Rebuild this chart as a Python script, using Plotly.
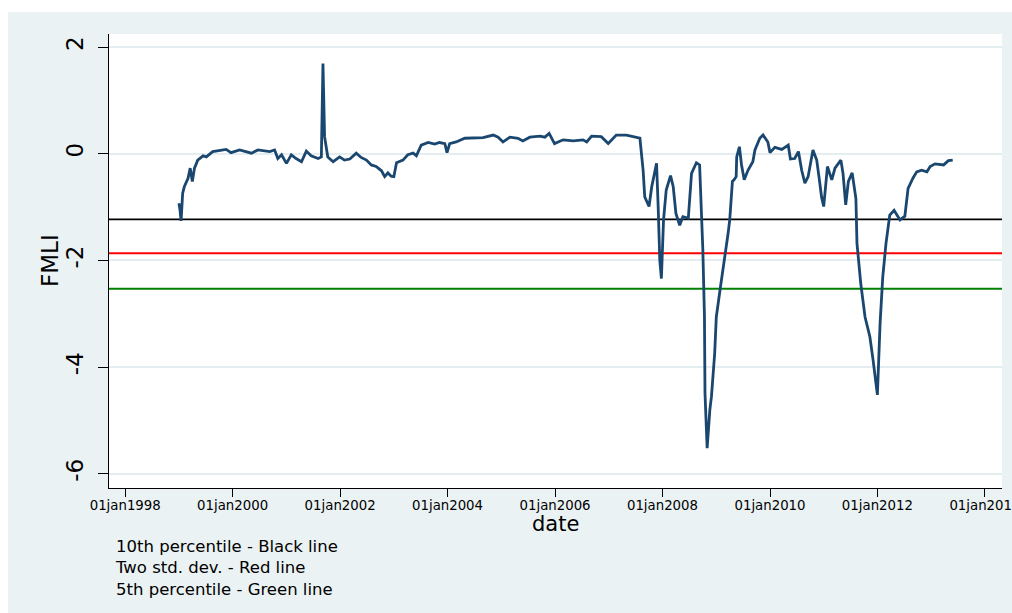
import datetime as dt
import plotly.graph_objects as go

# ---- data (decimal year, FMLI value) ----
date_years = [
    1999.00, 1999.02, 1999.04, 1999.07, 1999.10, 1999.17, 1999.21, 1999.25, 1999.29, 1999.35,
    1999.45, 1999.51, 1999.63, 1999.88, 1999.97, 2000.13, 2000.35, 2000.47, 2000.69, 2000.78,
    2000.84, 2000.91, 2001.00, 2001.09, 2001.18, 2001.28, 2001.37, 2001.46, 2001.59, 2001.65,
    2001.68, 2001.71, 2001.77, 2001.87, 2001.99, 2002.08, 2002.18, 2002.30, 2002.39, 2002.49,
    2002.58, 2002.67, 2002.77, 2002.83, 2002.89, 2002.95, 2003.00, 2003.05, 2003.17, 2003.26,
    2003.36, 2003.42, 2003.51, 2003.64, 2003.76, 2003.85, 2003.95, 2003.99, 2004.04, 2004.16,
    2004.32, 2004.47, 2004.66, 2004.85, 2004.94, 2005.03, 2005.16, 2005.31, 2005.40, 2005.53,
    2005.72, 2005.81, 2005.89, 2005.99, 2006.15, 2006.34, 2006.52, 2006.59, 2006.68, 2006.86,
    2006.99, 2007.14, 2007.33, 2007.58, 2007.64, 2007.67, 2007.75, 2007.80, 2007.89, 2007.92,
    2007.95, 2007.98, 2008.02, 2008.07, 2008.15, 2008.20, 2008.25, 2008.32, 2008.38, 2008.48,
    2008.54, 2008.63, 2008.69, 2008.75, 2008.78, 2008.79, 2008.82, 2008.83, 2008.88, 2008.91,
    2008.97, 2009.00, 2009.07, 2009.16, 2009.22, 2009.25, 2009.29, 2009.30, 2009.33, 2009.37,
    2009.38, 2009.43, 2009.47, 2009.52, 2009.59, 2009.68, 2009.72, 2009.81, 2009.87, 2009.96,
    2010.00, 2010.09, 2010.22, 2010.34, 2010.38, 2010.46, 2010.53, 2010.59, 2010.65, 2010.71,
    2010.80, 2010.87, 2010.92, 2010.96, 2011.00, 2011.07, 2011.15, 2011.21, 2011.32, 2011.36,
    2011.41, 2011.46, 2011.53, 2011.60, 2011.62, 2011.69, 2011.77, 2011.86, 2011.92, 2012.00,
    2012.05, 2012.10, 2012.16, 2012.23, 2012.31, 2012.42, 2012.51, 2012.57, 2012.66, 2012.73,
    2012.82, 2012.92, 2012.98, 2013.07, 2013.23, 2013.32, 2013.40,
]
fmli = [
    -0.93, -1.05, -1.26, -0.74, -0.62, -0.46, -0.27, -0.52, -0.27, -0.12,
    -0.04, -0.06, 0.04, 0.08, 0.02, 0.07, 0.01, 0.07, 0.04, 0.07,
    -0.09, -0.02, -0.18, -0.02, -0.09, -0.15, 0.05, -0.04, -0.09, -0.06,
    1.69, 0.32, -0.06, -0.15, -0.06, -0.12, -0.10, 0.01, -0.07, -0.12,
    -0.21, -0.24, -0.32, -0.43, -0.36, -0.42, -0.43, -0.17, -0.12, -0.02,
    0.01, -0.04, 0.16, 0.21, 0.18, 0.21, 0.19, 0.02, 0.19, 0.22,
    0.29, 0.29, 0.30, 0.35, 0.31, 0.22, 0.31, 0.29, 0.24, 0.31,
    0.33, 0.31, 0.38, 0.19, 0.26, 0.24, 0.26, 0.22, 0.33, 0.32,
    0.19, 0.35, 0.35, 0.29, -0.31, -0.81, -0.99, -0.62, -0.18, -0.99,
    -1.99, -2.34, -1.24, -0.68, -0.41, -0.62, -1.12, -1.34, -1.18, -1.21,
    -0.37, -0.17, -0.21, -1.80, -3.06, -4.49, -5.12, -5.52, -4.80, -4.55,
    -3.74, -3.06, -2.55, -1.96, -1.49, -1.24, -0.62, -0.52, -0.49, -0.43,
    -0.06, 0.13, -0.21, -0.49, -0.31, -0.15, 0.07, 0.29, 0.35, 0.22,
    0.02, 0.12, 0.08, 0.16, -0.10, -0.09, 0.04, -0.31, -0.55, -0.43,
    0.07, -0.12, -0.49, -0.81, -0.99, -0.24, -0.49, -0.27, -0.12, -0.37,
    -0.96, -0.52, -0.36, -0.84, -1.68, -2.43, -3.06, -3.43, -3.87, -4.52,
    -3.18, -2.31, -1.68, -1.15, -1.06, -1.24, -1.17, -0.65, -0.46, -0.34,
    -0.31, -0.34, -0.24, -0.19, -0.21, -0.13, -0.12,
]

threshold_names = ["10th percentile", "Two std. dev.", "5th percentile"]
threshold_values = [-1.23, -1.867, -2.53]
threshold_colors = ["#000000", "#FF0000", "#008000"]

tick_years = [1998, 2000, 2002, 2004, 2006, 2008, 2010, 2012, 2014]
tick_labels = ["01jan%d" % y for y in tick_years]
y_ticks = [2, 0, -2, -4, -6]
y_tick_labels = ["2", "0", "-2", "-4", "-6"]

x_title = "date"
y_title = "FMLI"
note_lines = [
    "10th percentile - Black line",
    "Two std. dev. - Red line",
    "5th percentile - Green line",
]


def year_to_date(y):
    yr = int(y)
    start = dt.datetime(yr, 1, 1)
    end = dt.datetime(yr + 1, 1, 1)
    return start + (end - start) * (y - yr)


dates = [year_to_date(y) for y in date_years]
tick_dates = [dt.datetime(y, 1, 1) for y in tick_years]

FONT = "DejaVu Sans, Liberation Sans, Arial, sans-serif"
BG = "#EAF2F3"

# figure geometry (page margin removed, figure fills the window)
W, H = 1012, 613
L, R, T, B = 109, 10, 34, 125
pw, ph = W - L - R, H - T - B


def px_x(p):
    return (p - L) / pw


def px_y(p):
    return (H - B - p) / ph


fig = go.Figure()
fig.add_trace(go.Scatter(
    x=dates, y=fmli, mode="lines",
    line=dict(color="#1A476F", width=2.8),
    showlegend=False, hoverinfo="x+y",
))

for name, val, col in zip(threshold_names, threshold_values, threshold_colors):
    fig.add_hline(y=val, line=dict(color=col, width=2 if col != "#000000" else 1.8), layer="below")

# white strips along the top and the left (grey graph region is inset)
fig.add_shape(type="rect", xref="paper", yref="paper", x0=px_x(-20), x1=px_x(W + 20),
              y0=px_y(12), y1=px_y(-20), fillcolor="white", line_width=0, layer="below")
fig.add_shape(type="rect", xref="paper", yref="paper", x0=px_x(-20), x1=px_x(8),
              y0=px_y(H + 20), y1=px_y(-20), fillcolor="white", line_width=0, layer="below")

fig.add_annotation(
    xref="paper", yref="paper", x=px_x(113), y=px_y(568.4),
    xanchor="left", yanchor="middle", align="left",
    text="<br>".join(note_lines), showarrow=False,
    font=dict(family=FONT, size=16.5, color="#000000"),
)
fig.add_annotation(
    xref="paper", yref="paper", x=px_x(50), y=px_y((T + H - B) / 2),
    xanchor="center", yanchor="middle", textangle=-90,
    text=y_title, showarrow=False,
    font=dict(family=FONT, size=23, color="#000000"),
)
fig.add_annotation(
    xref="paper", yref="paper", x=0.5, y=px_y(524),
    xanchor="center", yanchor="middle",
    text=x_title, showarrow=False,
    font=dict(family=FONT, size=21, color="#000000"),
)

fig.update_layout(
    width=W, height=H,
    margin=dict(l=L, r=R, t=T, b=B, autoexpand=False),
    paper_bgcolor=BG, plot_bgcolor="white",
    font=dict(family=FONT, color="#000000"),
    showlegend=False,
)
fig.update_xaxes(
    type="date",
    range=[year_to_date(1997.698), year_to_date(2014.318)],
    tickvals=tick_dates, ticktext=tick_labels,
    tickfont=dict(family=FONT, size=13.3, color="#000000"),
    ticks="outside", ticklen=8, tickwidth=1.2, tickcolor="#000000",
    showgrid=False, zeroline=False,
    showline=True, linecolor="#000000", linewidth=1.2,
    ticklabelstandoff=-3, ticklabeloverflow="allow",
    automargin=False,
)
fig.update_yaxes(
    range=[-6.266, 2.244],
    tickvals=y_ticks, ticktext=y_tick_labels,
    tickangle=-90,
    tickfont=dict(family=FONT, size=23, color="#000000"),
    ticks="outside", ticklen=10, tickwidth=1.2, tickcolor="#000000",
    showgrid=True, gridcolor="#E4EDEF", gridwidth=1.6,
    zeroline=False,
    showline=True, linecolor="#000000", linewidth=1.2,
    ticklabelstandoff=6,
    automargin=False,
)

fig.write_html(
    "out.html",
    config={"displayModeBar": False, "responsive": False},
    post_script=(
        "document.body.style.margin='0';"
        "document.body.style.overflow='hidden';"
        "document.documentElement.style.overflow='hidden';"
        "document.documentElement.style.background='%s';"
        "document.body.style.background='%s';" % (BG, BG)
    ),
)
